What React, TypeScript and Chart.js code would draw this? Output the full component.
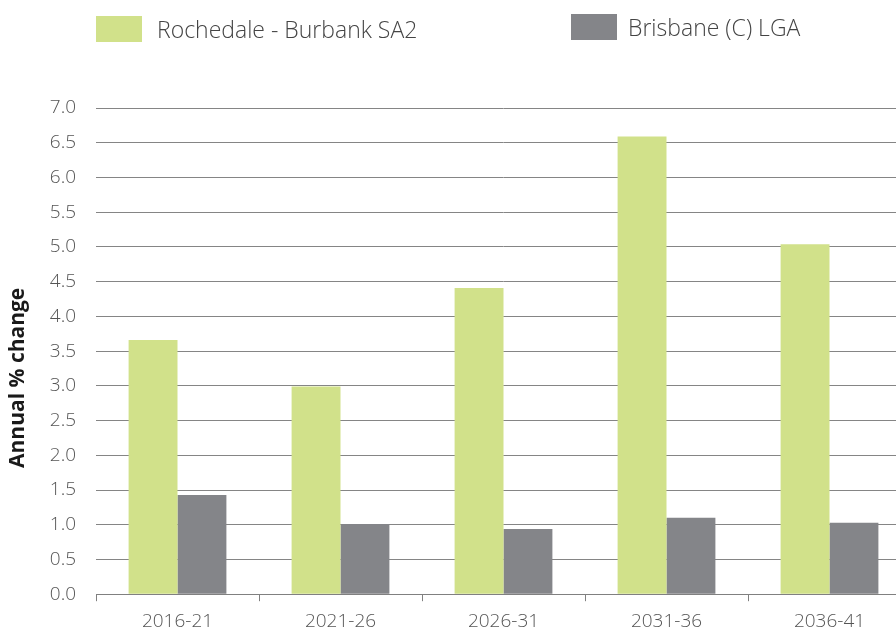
import React, { useEffect, useRef } from "react";
import { Chart, registerables } from "chart.js";

Chart.register(...registerables);

const categories = ["2016-21", "2021-26", "2026-31", "2031-36", "2036-41"];
const seriesNames = ["Rochedale - Burbank SA2", "Brisbane (C) LGA"];
const rochedaleValues = [3.66, 2.99, 4.41, 6.59, 5.04];
const brisbaneValues = [1.43, 1.01, 0.94, 1.1, 1.03];
const seriesColors = ["#D1E18A", "#848589"];
const yAxisTitle = "Annual % change";

const FONT = "'Open Sans', 'Noto Sans', sans-serif";

const yTitlePlugin = {
  id: "yTitlePlugin",
  afterDraw(chart: any) {
    const { ctx, chartArea } = chart;
    const cy = chartArea.top + (chartArea.bottom - chartArea.top) * 0.555;
    ctx.save();
    ctx.translate(18.5, cy);
    ctx.rotate(-Math.PI / 2);
    ctx.font = `700 21px ${FONT}`;
    ctx.fillStyle = "#1a1a1a";
    ctx.textAlign = "center";
    ctx.textBaseline = "middle";
    ctx.fillText(yAxisTitle, 0, 0);
    ctx.restore();
  },
};

export default function App() {
  const canvasRef = useRef<HTMLCanvasElement | null>(null);

  useEffect(() => {
    if (!canvasRef.current) return;
    const chart = new Chart(canvasRef.current, {
      type: "bar",
      data: {
        labels: categories,
        datasets: [
          {
            label: seriesNames[0],
            data: rochedaleValues,
            backgroundColor: seriesColors[0],
            categoryPercentage: 0.6,
            barPercentage: 1.0,
          },
          {
            label: seriesNames[1],
            data: brisbaneValues,
            backgroundColor: seriesColors[1],
            categoryPercentage: 0.6,
            barPercentage: 1.0,
          },
        ],
      },
      options: {
        responsive: false,
        animation: false,
        layout: { padding: { top: 108, left: 0, right: 0, bottom: 0 } },
        plugins: {
          legend: { display: false },
          tooltip: { enabled: false },
        },
        scales: {
          x: {
            grid: {
              offset: true,
              drawOnChartArea: false,
              drawTicks: true,
              tickLength: 7,
              color: "#808080",
            },
            border: { display: true, color: "#808080", width: 1 },
            ticks: {
              padding: 9,
              color: "#555555",
              font: { family: FONT, size: 19, weight: 300 as any },
            },
          },
          y: {
            min: 0,
            max: 7,
            afterFit: (scale: any) => {
              scale.width = 96;
            },
            grid: {
              drawTicks: false,
              color: "#858585",
              lineWidth: 1,
            },
            border: { display: false },
            ticks: {
              stepSize: 0.5,
              padding: 20,
              color: "#555555",
              font: { family: FONT, size: 19, weight: 300 as any },
              callback: (v: any) => Number(v).toFixed(1),
            },
          },
        },
      },
      plugins: [yTitlePlugin],
    });
    return () => chart.destroy();
  }, []);

  const legendItems = [
    { name: seriesNames[0], color: seriesColors[0], boxLeft: 96, boxTop: 16, textLeft: 157 },
    { name: seriesNames[1], color: seriesColors[1], boxLeft: 571, boxTop: 14, textLeft: 628 },
  ];

  return (
    <div
      style={{
        position: "fixed",
        left: 0,
        top: 0,
        width: 896,
        height: 627,
        overflow: "hidden",
        background: "#ffffff",
      }}
    >
      <canvas ref={canvasRef} width={911} height={642} style={{ display: "block" }} />
      {legendItems.map((it) => (
        <React.Fragment key={it.name}>
          <div
            style={{
              position: "absolute",
              left: it.boxLeft,
              top: it.boxTop,
              width: 46,
              height: 26,
              background: it.color,
            }}
          />
          <div
            style={{
              position: "absolute",
              left: it.textLeft,
              top: it.boxTop + 13 - 16,
              height: 32,
              lineHeight: "32px",
              fontFamily: FONT,
              fontWeight: 300,
              fontSize: 23,
              color: "#444444",
              whiteSpace: "nowrap",
            }}
          >
            {it.name}
          </div>
        </React.Fragment>
      ))}
    </div>
  );
}
